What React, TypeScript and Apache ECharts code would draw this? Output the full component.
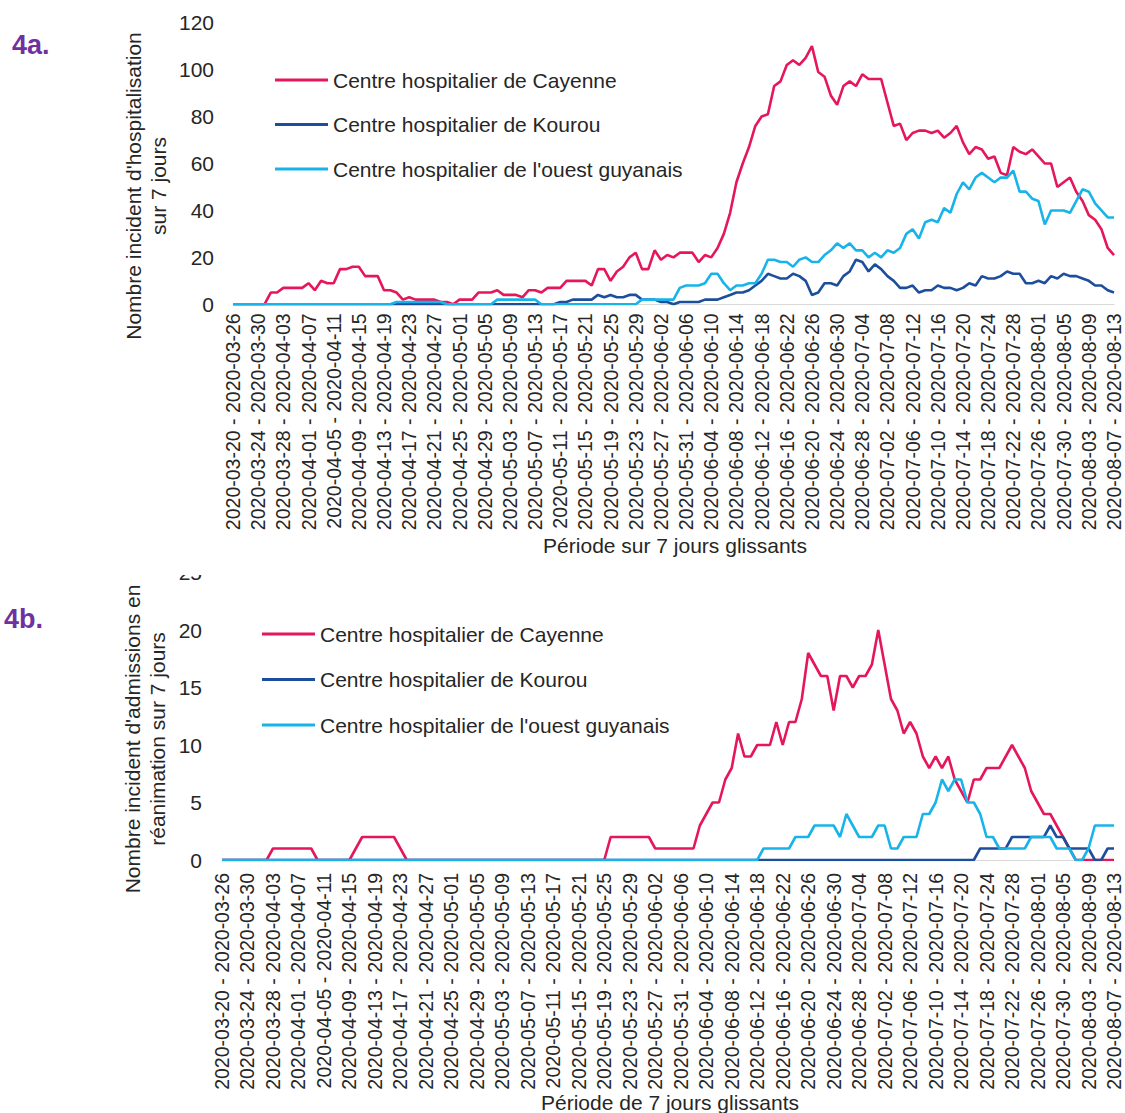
import React, { useEffect, useRef } from "react";
import * as echarts from "echarts";

const FONT = "'Liberation Sans', Arial, sans-serif";
const TEXT_COLOR = "#262626";

const SERIES_NAMES = [
  "Centre hospitalier de Cayenne",
  "Centre hospitalier de Kourou",
  "Centre hospitalier de l'ouest guyanais",
];
const COLORS = ["#E5175A", "#1D4E9B", "#18B4E9"];

// 7-day sliding periods, first period 2020-03-20 - 2020-03-26, last 2020-08-07 - 2020-08-13
const FIRST_START = Date.UTC(2020, 2, 20);
const N_PERIODS = 141;
const fmt = (t: number) => new Date(t).toISOString().slice(0, 10);
const categories: string[] = [];
for (let i = 0; i < N_PERIODS; i++) {
  const s = FIRST_START + i * 86400000;
  categories.push(fmt(s) + " - " + fmt(s + 6 * 86400000));
}

// 4a. Hospitalisations (7-day incidence)
const hospCayenne = [
  0, 0, 0, 0, 0, 0, 5, 5, 7, 7,
  7, 7, 9, 6, 10, 9, 9, 15, 15, 16,
  16, 12, 12, 12, 6, 6, 5, 2, 3, 2,
  2, 2, 2, 1, 1, 0, 2, 2, 2, 5,
  5, 5, 6, 4, 4, 4, 3, 6, 6, 5,
  7, 7, 7, 10, 10, 10, 10, 8, 15, 15,
  10, 14, 16, 20, 22, 15, 15, 23, 19, 21,
  20, 22, 22, 22, 18, 21, 20, 24, 30, 39,
  52, 60, 67, 76, 80, 81, 93, 95, 102, 104,
  102, 105, 110, 99, 97, 89, 85, 93, 95, 93,
  98, 96, 96, 96, 86, 76, 77, 70, 73, 74,
  74, 73, 74, 71, 73, 76, 69, 64, 67, 66,
  62, 63, 56, 55, 67, 65, 64, 66, 63, 60,
  60, 50, 52, 54, 48, 44, 38, 36, 32, 24,
  21,
];
const hospKourou = [
  0, 0, 0, 0, 0, 0, 0, 0, 0, 0,
  0, 0, 0, 0, 0, 0, 0, 0, 0, 0,
  0, 0, 0, 0, 0, 0, 0, 0, 0, 0,
  0, 0, 0, 0, 0, 0, 0, 0, 0, 0,
  0, 0, 0, 0, 0, 0, 0, 0, 0, 0,
  0, 0, 1, 1, 2, 2, 2, 2, 4, 3,
  4, 3, 3, 4, 4, 2, 2, 2, 1, 1,
  0, 1, 1, 1, 1, 2, 2, 2, 3, 4,
  5, 5, 6, 8, 10, 13, 12, 11, 11, 13,
  12, 10, 4, 5, 9, 9, 8, 12, 14, 19,
  18, 14, 17, 15, 12, 10, 7, 7, 8, 5,
  6, 6, 8, 7, 7, 6, 7, 9, 8, 12,
  11, 11, 12, 14, 13, 13, 9, 9, 10, 9,
  12, 11, 13, 12, 12, 11, 10, 8, 8, 6,
  5,
];
const hospOuest = [
  0, 0, 0, 0, 0, 0, 0, 0, 0, 0,
  0, 0, 0, 0, 0, 0, 0, 0, 0, 0,
  0, 0, 0, 0, 0, 0, 1, 1, 1, 1,
  1, 1, 1, 1, 0, 0, 0, 0, 0, 0,
  0, 0, 2, 2, 2, 2, 2, 2, 2, 0,
  0, 0, 0, 0, 0, 0, 0, 0, 0, 0,
  0, 0, 0, 0, 0, 2, 2, 2, 2, 2,
  2, 7, 8, 8, 8, 9, 13, 13, 9, 6,
  8, 8, 9, 9, 13, 19, 19, 18, 18, 16,
  19, 20, 18, 18, 21, 23, 26, 24, 26, 23,
  23, 20, 22, 20, 23, 22, 24, 30, 32, 28,
  35, 36, 35, 41, 39, 47, 52, 49, 54, 56,
  54, 52, 54, 54, 57, 48, 48, 45, 44, 34,
  40, 40, 40, 39, 44, 49, 48, 43, 40, 37,
  37,
];

// 4b. Admissions en réanimation (7-day incidence)
const reaCayenne = [
  0, 0, 0, 0, 0, 0, 0, 0, 1, 1,
  1, 1, 1, 1, 1, 0, 0, 0, 0, 0,
  0, 1, 2, 2, 2, 2, 2, 2, 1, 0,
  0, 0, 0, 0, 0, 0, 0, 0, 0, 0,
  0, 0, 0, 0, 0, 0, 0, 0, 0, 0,
  0, 0, 0, 0, 0, 0, 0, 0, 0, 0,
  0, 2, 2, 2, 2, 2, 2, 2, 1, 1,
  1, 1, 1, 1, 1, 3, 4, 5, 5, 7,
  8, 11, 9, 9, 10, 10, 10, 12, 10, 12,
  12, 14, 18, 17, 16, 16, 13, 16, 16, 15,
  16, 16, 17, 20, 17, 14, 13, 11, 12, 11,
  9, 8, 9, 8, 9, 7, 6, 5, 7, 7,
  8, 8, 8, 9, 10, 9, 8, 6, 5, 4,
  4, 3, 2, 1, 0, 0, 0, 0, 0, 0,
  0,
];
const reaKourou = [
  0, 0, 0, 0, 0, 0, 0, 0, 0, 0,
  0, 0, 0, 0, 0, 0, 0, 0, 0, 0,
  0, 0, 0, 0, 0, 0, 0, 0, 0, 0,
  0, 0, 0, 0, 0, 0, 0, 0, 0, 0,
  0, 0, 0, 0, 0, 0, 0, 0, 0, 0,
  0, 0, 0, 0, 0, 0, 0, 0, 0, 0,
  0, 0, 0, 0, 0, 0, 0, 0, 0, 0,
  0, 0, 0, 0, 0, 0, 0, 0, 0, 0,
  0, 0, 0, 0, 0, 0, 0, 0, 0, 0,
  0, 0, 0, 0, 0, 0, 0, 0, 0, 0,
  0, 0, 0, 0, 0, 0, 0, 0, 0, 0,
  0, 0, 0, 0, 0, 0, 0, 0, 0, 1,
  1, 1, 1, 1, 2, 2, 2, 2, 2, 2,
  3, 2, 2, 1, 1, 1, 1, 0, 0, 1,
  1,
];
const reaOuest = [
  0, 0, 0, 0, 0, 0, 0, 0, 0, 0,
  0, 0, 0, 0, 0, 0, 0, 0, 0, 0,
  0, 0, 0, 0, 0, 0, 0, 0, 0, 0,
  0, 0, 0, 0, 0, 0, 0, 0, 0, 0,
  0, 0, 0, 0, 0, 0, 0, 0, 0, 0,
  0, 0, 0, 0, 0, 0, 0, 0, 0, 0,
  0, 0, 0, 0, 0, 0, 0, 0, 0, 0,
  0, 0, 0, 0, 0, 0, 0, 0, 0, 0,
  0, 0, 0, 0, 0, 1, 1, 1, 1, 1,
  2, 2, 2, 3, 3, 3, 3, 2, 4, 3,
  2, 2, 2, 3, 3, 1, 1, 2, 2, 2,
  4, 4, 5, 7, 6, 7, 7, 5, 5, 4,
  2, 2, 1, 1, 1, 1, 1, 2, 2, 2,
  2, 1, 1, 1, 0, 0, 1, 3, 3, 3,
  3,
];

const HOSP = [hospCayenne, hospKourou, hospOuest];
const REA = [reaCayenne, reaKourou, reaOuest];

const Y_TITLE_A = "Nombre incident d'hospitalisation\nsur 7 jours";
const Y_TITLE_B = "Nombre incident d'admissions en\nréanimation sur 7 jours";
const X_TITLE_A = "Période sur 7 jours glissants";
const X_TITLE_B = "Période de 7 jours glissants";

function makeSeries(data: number[][], axisIndex: number) {
  return data.map((d, k) => ({
    type: "line",
    name: SERIES_NAMES[k],
    xAxisIndex: axisIndex,
    yAxisIndex: axisIndex,
    data: d,
    symbol: "none",
    showSymbol: false,
    lineStyle: { color: COLORS[k], width: 2.6 },
    itemStyle: { color: COLORS[k] },
    z: 2 + k,
  }));
}

function xAxisCfg(gridIndex: number, margin: number) {
  return {
    type: "category",
    gridIndex,
    data: categories,
    boundaryGap: false,
    axisLine: { show: true, lineStyle: { color: "#D9D9D9", width: 1 } },
    axisTick: { show: false },
    splitLine: { show: false },
    axisLabel: {
      interval: 3,
      rotate: 90,
      fontSize: 19.5,
      margin,
      color: TEXT_COLOR,
      fontFamily: FONT,
      hideOverlap: false,
    },
  };
}

function yAxisCfg(gridIndex: number, max: number, interval: number, margin: number) {
  return {
    type: "value",
    gridIndex,
    min: 0,
    max,
    interval,
    axisLine: { show: false },
    axisTick: { show: false },
    splitLine: { show: false },
    axisLabel: { fontSize: 21, margin, color: TEXT_COLOR, fontFamily: FONT },
  };
}

function legendCfg(left: number, top: number, gap: number) {
  return {
    data: SERIES_NAMES,
    orient: "vertical",
    left,
    top,
    padding: 0,
    itemWidth: 53,
    itemHeight: 3,
    itemGap: gap,
    icon: "rect",
    selectedMode: false,
    textStyle: { fontSize: 21, lineHeight: 24, color: TEXT_COLOR, fontFamily: FONT },
  };
}

export default function App() {
  const ref = useRef<HTMLDivElement>(null);
  useEffect(() => {
    if (!ref.current) return;
    const chart = echarts.init(ref.current, null, { renderer: "svg" });
    chart.setOption({
      animation: false,
      backgroundColor: "#ffffff",
      textStyle: { fontFamily: FONT },
      grid: [
        { left: 233, right: 11, top: 22.7, height: 281.6, outerBoundsMode: "none", containLabel: false },
        { left: 222, right: 11, top: 572.5, height: 287.5, outerBoundsMode: "none", containLabel: false },
      ],
      xAxis: [xAxisCfg(0, 9), xAxisCfg(1, 13)],
      yAxis: [yAxisCfg(0, 120, 20, 19), yAxisCfg(1, 25, 5, 20)],
      legend: [legendCfg(275, 68, 20.5), legendCfg(262, 622, 21.5)],
      series: [...makeSeries(HOSP, 0), ...makeSeries(REA, 1)],
      graphic: [
        {
          type: "rect",
          z: 100,
          shape: { x: 170, y: 548, width: 50, height: 27 },
          style: { fill: "#ffffff" },
        },
        {
          type: "text",
          x: 12,
          y: 45,
          style: {
            text: "4a.",
            fill: "#7030A0",
            fontSize: 27,
            fontWeight: "bold",
            fontFamily: FONT,
            align: "left",
            verticalAlign: "middle",
          },
        },
        {
          type: "text",
          x: 4,
          y: 619,
          style: {
            text: "4b.",
            fill: "#7030A0",
            fontSize: 27,
            fontWeight: "bold",
            fontFamily: FONT,
            align: "left",
            verticalAlign: "middle",
          },
        },
        {
          type: "text",
          x: 145.5,
          y: 186,
          rotation: Math.PI / 2,
          style: {
            text: Y_TITLE_A,
            fill: TEXT_COLOR,
            fontSize: 21,
            lineHeight: 25,
            fontFamily: FONT,
            align: "center",
            verticalAlign: "middle",
          },
        },
        {
          type: "text",
          x: 144.5,
          y: 739,
          rotation: Math.PI / 2,
          style: {
            text: Y_TITLE_B,
            fill: TEXT_COLOR,
            fontSize: 21,
            lineHeight: 25,
            fontFamily: FONT,
            align: "center",
            verticalAlign: "middle",
          },
        },
        {
          type: "text",
          x: 675,
          y: 545,
          style: {
            text: X_TITLE_A,
            fill: TEXT_COLOR,
            fontSize: 21,
            fontFamily: FONT,
            align: "center",
            verticalAlign: "middle",
          },
        },
        {
          type: "text",
          x: 670,
          y: 1102,
          style: {
            text: X_TITLE_B,
            fill: TEXT_COLOR,
            fontSize: 21,
            fontFamily: FONT,
            align: "center",
            verticalAlign: "middle",
          },
        },
      ],
    });
    return () => chart.dispose();
  }, []);

  return (
    <div
      ref={ref}
      style={{ position: "absolute", left: 0, top: 0, width: 1125, height: 1113, background: "#fff" }}
    />
  );
}
